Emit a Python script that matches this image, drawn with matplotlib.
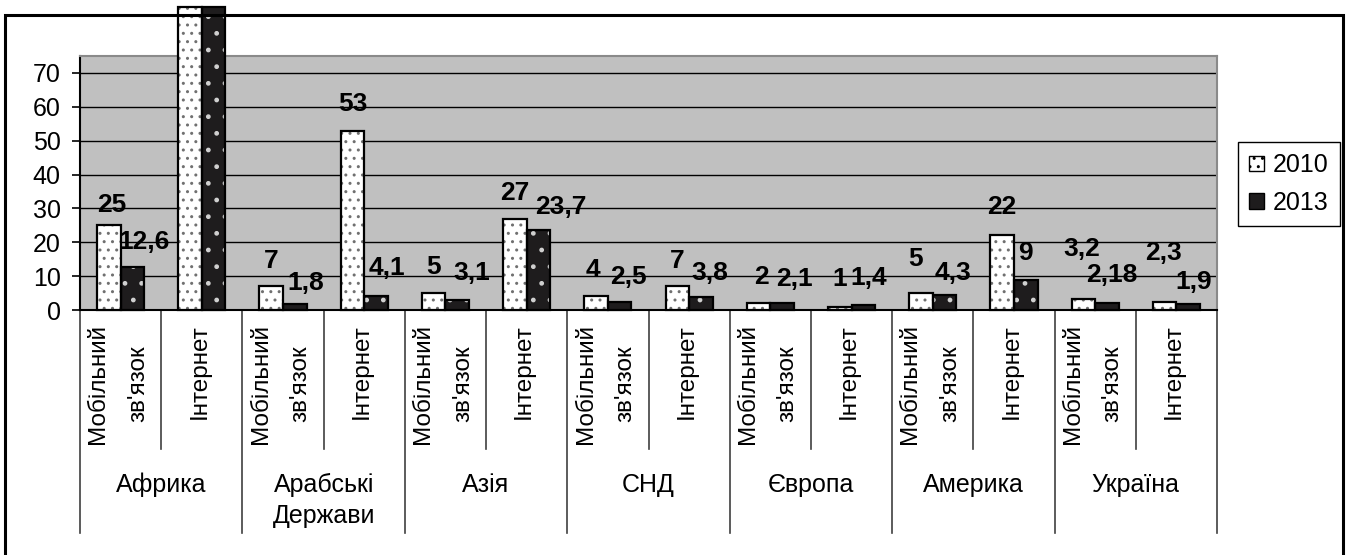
import numpy as np
import matplotlib.pyplot as plt
from matplotlib.patches import Patch, Rectangle
from matplotlib.transforms import blended_transform_factory

plt.rcParams['font.family'] = ['Liberation Sans', 'DejaVu Sans']
plt.rcParams['hatch.linewidth'] = 1.0

regions = ['Африка', 'Арабські\nДержави', 'Азія', 'СНД', 'Європа', 'Америка', 'Україна']
services = ['Мобільний\nзв\'язок', 'Інтернет']

# values per region: mobile, internet
v2010 = [25, 89.5, 7, 53, 5, 27, 4, 7, 2, 1, 5, 22, 3.2, 2.3]
v2013 = [12.6, 89.5, 1.8, 4.1, 3.1, 23.7, 2.5, 3.8, 2.1, 1.4, 4.3, 9, 2.18, 1.9]
lab2010 = ['25', None, '7', '53', '5', '27', '4', '7', '2', '1', '5', '22', '3,2', '2,3']
lab2013 = ['12,6', None, '1,8', '4,1', '3,1', '23,7', '2,5', '3,8', '2,1', '1,4', '4,3', '9', '2,18', '1,9']
years = ['2010', '2013']
yticks = [0, 10, 20, 30, 40, 50, 60, 70]

# label shifts in pixels (right, up from bar top)
off2010 = [(3, 20), None, (0, 25), (0, 27), (0, 26), (0, 26), (-3, 26), (0, 25),
           (3, 26), (0, 28), (-5, 34), (0, 28), (-2, 50), (-1, 49)]
off2013 = [(12, 25), None, (11, 21), (11, 28), (14, 27), (22, 23), (9, 25), (9, 24),
           (12, 24), (5, 27), (8, 22), (0, 27), (5, 28), (6, 22)]

W, H = 1348, 555
fig = plt.figure(figsize=(W / 100, H / 100), dpi=100)
ax = fig.add_axes([80 / W, 1 - 310 / H, (1217 - 80) / W, (310 - 56) / H])
ax.set_facecolor('#c0c0c0')

n = len(v2010)
x = np.arange(n)
bw = 0.29

# 2010: white bars with grey dots
ax.bar(x - bw / 2, v2010, bw, color='white', edgecolor='#707070', hatch='..',
       linewidth=0, zorder=3, clip_on=False)
# 2013: dark bars with white dots
ax.bar(x + bw / 2, v2013, bw, color='#1e1c1d', edgecolor='#d0d0d0', hatch='.',
       linewidth=0, zorder=3, clip_on=False)
# outlines on top of both
ax.bar(x - bw / 2, v2010, bw, color='none', edgecolor='black',
       linewidth=1.6, zorder=4, clip_on=False)
ax.bar(x + bw / 2, v2013, bw, color='none', edgecolor='black',
       linewidth=1.6, zorder=4, clip_on=False)

for i in range(n):
    for val, lab, off, shift in ((v2010[i], lab2010[i], off2010[i], -bw / 2),
                                 (v2013[i], lab2013[i], off2013[i], bw / 2)):
        if lab is None:
            continue
        ax.annotate(lab, (x[i] + shift, val), xytext=(off[0] * 0.72, off[1] * 0.72),
                    textcoords='offset points', ha='center', va='center',
                    fontsize=19, fontweight='bold', zorder=6)

ax.set_xlim(-0.5, n - 0.5)
ax.set_ylim(0, 75)
ax.set_yticks(yticks)
ax.set_yticklabels([str(t) for t in yticks], fontsize=18)
ax.tick_params(axis='y', direction='out', length=6, width=1.2, pad=8)
ax.set_xticks([])
ax.grid(axis='y', color='black', linewidth=1)
ax.set_axisbelow(True)
for s in ['top', 'right']:
    ax.spines[s].set_color('#8a8a8a')
    ax.spines[s].set_linewidth(1.5)
ax.spines['left'].set_linewidth(1.5)
ax.spines['bottom'].set_linewidth(1.5)

# category axis below the plot
tr = blended_transform_factory(ax.transData, ax.transAxes)
for k in range(n + 1):
    bottom = -0.878 if k % 2 == 0 else -0.547
    ax.plot([k - 0.5, k - 0.5], [0, bottom], color='#404040', linewidth=1.2,
            transform=tr, clip_on=False)
for i in range(n):
    ax.text(x[i] - 0.03, -0.055, services[i % 2], transform=tr, rotation=90,
            ha='center', va='top', multialignment='center', fontsize=17.5,
            linespacing=2.05)
for g, name in enumerate(regions):
    ax.text(2 * g + 0.5, -0.64, name, transform=tr, ha='center', va='top',
            fontsize=18, linespacing=1.4)

handles = [Patch(facecolor='white', edgecolor='black', hatch='..', linewidth=1),
           Patch(facecolor='#1e1c1d', edgecolor='black', linewidth=1)]
leg = fig.legend(handles, years, loc='upper left', bbox_to_anchor=(1238 / W, 1 - 142 / H),
                 bbox_transform=fig.transFigure, borderaxespad=0, fontsize=18,
                 fancybox=False, edgecolor='black', framealpha=1, handlelength=0.6,
                 handleheight=0.6, handletextpad=0.35, labelspacing=0.55,
                 borderpad=0.45)
leg.get_frame().set_linewidth(1)

# outer chart border drawn over the tall bars
fig.patches.append(Rectangle((5 / W, -0.01), (1343 - 5) / W, 1 - 15 / H + 0.01,
                             transform=fig.transFigure, fill=False,
                             edgecolor='black', linewidth=2.2, zorder=10))

fig.savefig('out.png', dpi=100)
